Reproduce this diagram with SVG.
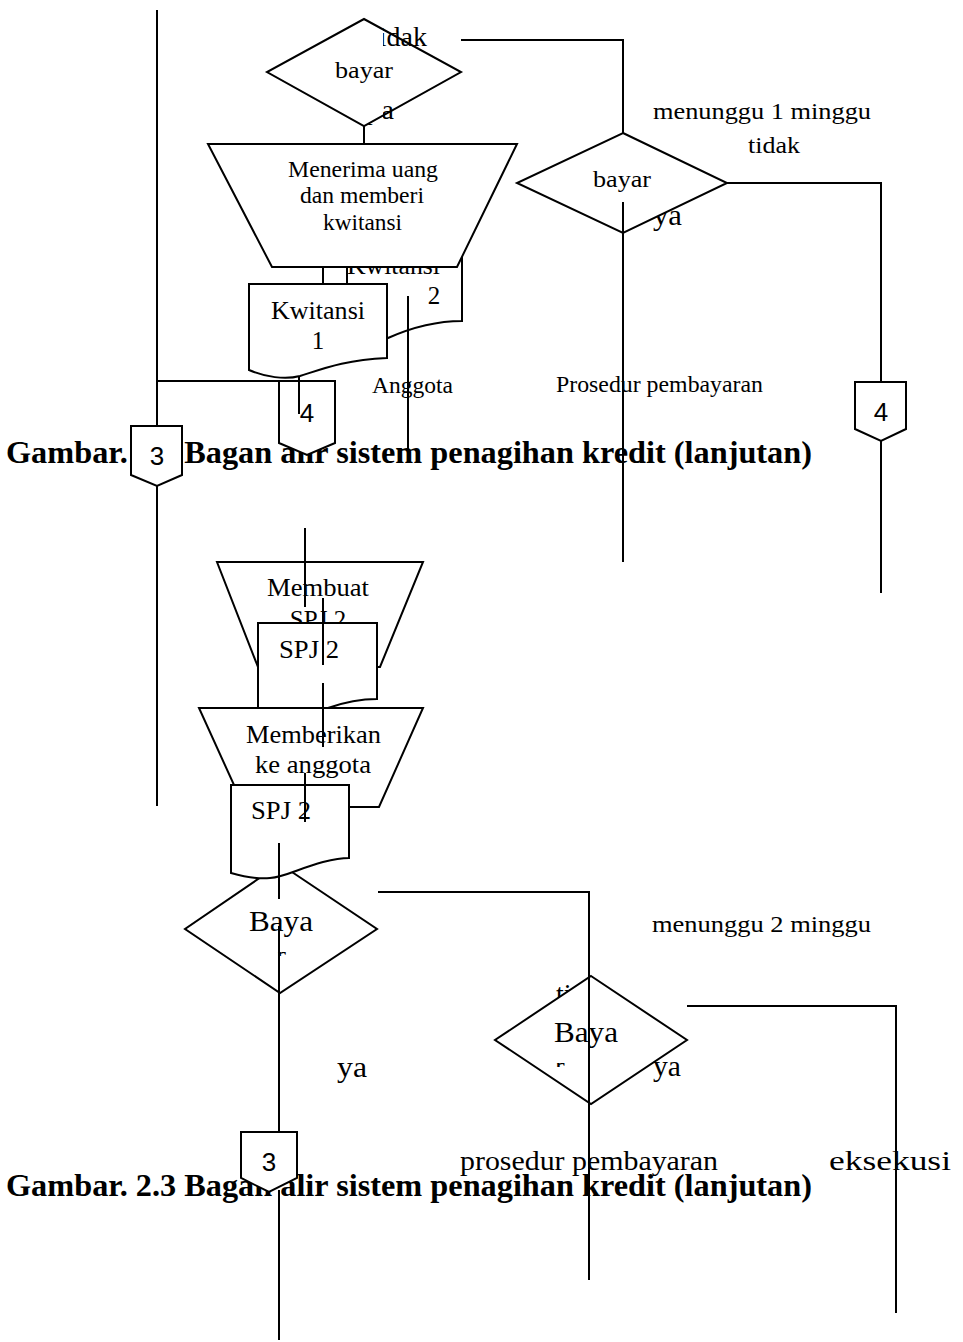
<svg xmlns="http://www.w3.org/2000/svg" width="963" height="1342" viewBox="0 0 963 1342">
<style>
.t{font-family:"Liberation Serif","Times New Roman",serif;fill:#000}
.b{font-weight:bold}
.s{font-family:"Liberation Sans",Arial,sans-serif;fill:#000}
.sh{fill:#fff;stroke:#000;stroke-width:2}
.ol{fill:none;stroke:#000;stroke-width:2}
.ln{fill:none;stroke:#000;stroke-width:2}
</style>
<defs>
<clipPath id="c1"><rect x="270" y="952" width="20" height="4"/></clipPath>
<clipPath id="c2"><rect x="550" y="1063" width="20" height="4"/></clipPath>
</defs>
<rect width="963" height="1342" fill="#fff"/>
<g id="titles">
<text class="t b" x="6" y="463" font-size="30.5" textLength="806" lengthAdjust="spacingAndGlyphs">Gambar. 2.3 Bagan alir sistem penagihan kredit (lanjutan)</text>
<text class="t b" x="6" y="1196" font-size="30.5" textLength="806" lengthAdjust="spacingAndGlyphs">Gambar. 2.3 Bagan alir sistem penagihan kredit (lanjutan)</text>
</g>
<g id="labels">
<text class="t" x="427" y="46" font-size="28" text-anchor="end">tidak</text>
<text class="t" x="394" y="119" font-size="28" text-anchor="end">ya</text>
<text class="t" x="653" y="119" font-size="24" textLength="218" lengthAdjust="spacingAndGlyphs">menunggu 1 minggu</text>
<text class="t" x="748" y="153" font-size="24" textLength="52" lengthAdjust="spacingAndGlyphs">tidak</text>
<text class="t" x="653" y="225" font-size="29" textLength="29" lengthAdjust="spacingAndGlyphs">ya</text>
<text class="t" x="372" y="393" font-size="22.5" textLength="81" lengthAdjust="spacingAndGlyphs">Anggota</text>
<text class="t" x="556" y="392" font-size="22.5" textLength="207" lengthAdjust="spacingAndGlyphs">Prosedur pembayaran</text>
<text class="t" x="337" y="1077" font-size="29" textLength="30" lengthAdjust="spacingAndGlyphs">ya</text>
<text class="t" x="652" y="932" font-size="24" textLength="219" lengthAdjust="spacingAndGlyphs">menunggu 2 minggu</text>
<text class="t" x="556" y="1003" font-size="28">tidak</text>
<text class="t" x="653" y="1076" font-size="29" textLength="28" lengthAdjust="spacingAndGlyphs">ya</text>
<text class="t" x="460" y="1170" font-size="28" textLength="258" lengthAdjust="spacingAndGlyphs">prosedur pembayaran</text>
<text class="t" x="829" y="1170" font-size="28" textLength="122" lengthAdjust="spacingAndGlyphs">eksekusi</text>
</g>
<g id="dec-bayar-1">
<rect x="300" y="22" width="83" height="102" fill="#fff"/>
<polygon class="ol" points="364,19 461,72 364,126 267,72"/>
<text class="t" x="335" y="78" font-size="23" textLength="58" lengthAdjust="spacingAndGlyphs">bayar</text>
</g>
<g id="doc-kwitansi-2">
<path class="sh" d="M323,240 H462 V321 C440,321 415,326 388,338 L323,350 Z"/>
<text class="t" x="347" y="274" font-size="25" textLength="93" lengthAdjust="spacingAndGlyphs">Kwitansi</text>
<text class="t" x="434" y="304" font-size="25" text-anchor="middle">2</text>
</g>
<g id="proc-menerima">
<polygon class="sh" points="208,144 517,144 457,267 272,267"/>
<text class="t" x="288" y="177" font-size="22.5" textLength="150" lengthAdjust="spacingAndGlyphs">Menerima uang</text>
<text class="t" x="300" y="203" font-size="22.5" textLength="124" lengthAdjust="spacingAndGlyphs">dan memberi</text>
<text class="t" x="323" y="230" font-size="22.5" textLength="79" lengthAdjust="spacingAndGlyphs">kwitansi</text>
</g>
<g id="doc-kwitansi-1">
<path class="sh" d="M249,284 H387 V358 C345,360 325,368 300,376 C285,380 265,377 249,370 Z"/>
<text class="t" x="271" y="319" font-size="25" textLength="94" lengthAdjust="spacingAndGlyphs">Kwitansi</text>
<text class="t" x="318" y="349" font-size="25" text-anchor="middle">1</text>
</g>
<g id="conn-3-top">
<path class="sh" d="M131,426 H182 V475 L157,486 L131,475 Z"/>
<text class="s" x="157" y="465" font-size="26" text-anchor="middle">3</text>
</g>
<g id="conn-4-left">
<path class="sh" d="M279,381 H335 V443 L307,455 L279,443 Z"/>
<text class="s" x="307" y="422" font-size="26" text-anchor="middle">4</text>
</g>
<g id="dec-bayar-2">
<polygon class="sh" points="623,133 727,183 623,233 517,183"/>
<text class="t" x="593" y="187" font-size="23" textLength="58" lengthAdjust="spacingAndGlyphs">bayar</text>
</g>
<g id="conn-4-right">
<path class="sh" d="M855,382 H906 V429 L881,441 L855,429 Z"/>
<text class="s" x="881" y="421" font-size="26" text-anchor="middle">4</text>
</g>
<g id="proc-membuat">
<polygon class="sh" points="217,562 423,562 380,667 258,667"/>
<text class="t" x="267" y="596" font-size="25" textLength="102" lengthAdjust="spacingAndGlyphs">Membuat</text>
<text class="t" x="318" y="628" font-size="25" text-anchor="middle">SPJ 2</text>
</g>
<g id="doc-spj2-a">
<path class="sh" d="M258,623 H377 V699 C362,699 345,702 328,708 L258,708 Z"/>
<text class="t" x="279" y="658" font-size="25" textLength="60" lengthAdjust="spacingAndGlyphs">SPJ 2</text>
</g>
<g id="proc-memberikan">
<polygon class="sh" points="199,708 423,708 379,807 244,807"/>
<text class="t" x="246" y="743" font-size="25" textLength="135" lengthAdjust="spacingAndGlyphs">Memberikan</text>
<text class="t" x="255" y="773" font-size="25" textLength="116" lengthAdjust="spacingAndGlyphs">ke anggota</text>
</g>
<g id="dec-baya-1">
<polygon class="sh" points="280,864 377,929 280,993 185,929"/>
<text class="t" x="249" y="931" font-size="29" textLength="64" lengthAdjust="spacingAndGlyphs">Baya</text>
<text class="t" x="281" y="965" font-size="29" text-anchor="middle" clip-path="url(#c1)">r</text>
</g>
<g id="doc-spj2-b">
<path class="sh" d="M231,785 H349 V858 C342,858 335,859 323,862 C300,868 285,877 270,878 C258,879 245,877 231,873 Z"/>
<text class="t" x="251" y="819" font-size="25" textLength="60" lengthAdjust="spacingAndGlyphs">SPJ 2</text>
</g>
<g id="dec-baya-2">
<polygon class="sh" points="591,976 687,1040 591,1104 495,1040"/>
<text class="t" x="554" y="1042" font-size="29" textLength="64" lengthAdjust="spacingAndGlyphs">Baya</text>
<text class="t" x="555" y="1076" font-size="29" clip-path="url(#c2)">r</text>
</g>
<g id="conn-3-bottom">
<path class="sh" d="M241,1132 H297 V1178 L269,1192 L241,1178 Z"/>
<text class="s" x="269" y="1171" font-size="26" text-anchor="middle">3</text>
</g>
<g id="connectors">
<path class="ln" d="M157,10 V426 M157,486 V806"/>
<path class="ln" d="M157,381 H279"/>
<path class="ln" d="M299,377 V414"/>
<path class="ln" d="M364,126 V144"/>
<path class="ln" d="M347,267 V285"/>
<path class="ln" d="M408,296 V452"/>
<path class="ln" d="M461,40 H623 V133"/>
<path class="ln" d="M623,202 V562"/>
<path class="ln" d="M727,183 H881 V382 M881,441 V593"/>
<path class="ln" d="M305,528 V607"/>
<path class="ln" d="M323,598 V665 M323,683 V747"/>
<path class="ln" d="M305,773 V822"/>
<path class="ln" d="M279,843 V899 M279,926 V1132 M279,1190 V1340"/>
<path class="ln" d="M378,892 H589 V1280"/>
<path class="ln" d="M687,1006 H896 V1313"/>
</g>
</svg>
